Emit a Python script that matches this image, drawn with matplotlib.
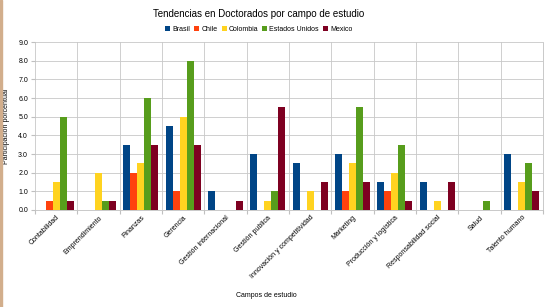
import matplotlib
matplotlib.use("Agg")
import matplotlib.pyplot as plt
import numpy as np

# porcentajes
campos = ["Contabilidad", "Emprendimiento", "Finanzas", "Gerencia",
          "Gestión internacional", "Gestión publica", "Innovación y competitividad",
          "Marketing", "Producción y logística", "Responsabilidad social",
          "Salud", "Talento humano"]
brasil = [0, 0, 3.5, 4.5, 1, 3, 2.5, 3, 1.5, 1.5, 0, 3]
chile = [0.5, 0, 2, 1, 0, 0, 0, 1, 1, 0, 0, 0]
colombia = [1.5, 2, 2.5, 5, 0, 0.5, 1, 2.5, 2, 0.5, 0, 1.5]
estados_unidos = [5, 0.5, 6, 8, 0, 1, 0, 5.5, 3.5, 0, 0.5, 2.5]
mexico = [0.5, 0.5, 3.5, 3.5, 0.5, 5.5, 1.5, 1.5, 0.5, 1.5, 0, 1]

series = [("Brasil", brasil, "#004586"),
          ("Chile", chile, "#ff420e"),
          ("Colombia", colombia, "#ffd320"),
          ("Estados Unidos", estados_unidos, "#579d1c"),
          ("Mexico", mexico, "#7e0021")]

plt.rcParams["font.family"] = ["Liberation Sans", "DejaVu Sans"]

fig = plt.figure(figsize=(5.51, 3.07), dpi=100)
ax = fig.add_axes([0.0635, 0.316, 0.922, 0.547])

x = np.arange(len(campos))
w = 0.165
for i, (nombre, vals, col) in enumerate(series):
    ax.bar(x + (i - 2) * w, vals, width=w, color=col, label=nombre, zorder=3)

ax.set_xlim(-0.5, len(campos) - 0.5)
ax.set_ylim(0, 9)
ax.set_yticks(np.arange(0, 9.5, 1))
ax.set_yticklabels(["%.1f" % v for v in np.arange(0, 9.5, 1)], fontsize=5)

# grid vertical entre categorias
ax.set_xticks(np.arange(-0.5, len(campos) + 0.5, 1), minor=False)
ax.set_xticklabels([])
ax.set_xticks(x, minor=True)
ax.set_xticklabels(campos, minor=True, rotation=45, ha="right",
                   rotation_mode="anchor", fontsize=5)
ax.tick_params(axis="x", which="minor", length=0, pad=3)
ax.tick_params(axis="x", which="major", length=3, color="#c0c0c0")
ax.tick_params(axis="y", length=3, color="#c0c0c0", pad=2)
ax.grid(True, which="major", color="#c8c8c8", linewidth=0.6, zorder=0)

for s in ["top", "left"]:
    ax.spines[s].set_visible(False)
ax.spines["bottom"].set_color("#c0c0c0")
ax.spines["right"].set_color("#c0c0c0")
ax.spines["bottom"].set_linewidth(0.6)
ax.spines["right"].set_linewidth(0.6)

ax.set_xlabel("Campos de estudio", fontsize=5)
ax.xaxis.set_label_coords(0.455, -0.49)
ax.set_ylabel("Participación porcentual", fontsize=5)
ax.yaxis.set_label_coords(-0.05, 0.5)

fig.text(0.47, 0.955, "Tendencias en Doctorados por campo de estudio",
         ha="center", va="center", fontsize=7)
fig.legend(loc="center", bbox_to_anchor=(0.47, 0.905), ncol=5, fontsize=5,
           frameon=False, handlelength=0.7, handleheight=0.7,
           handletextpad=0.3, columnspacing=0.6)

# borde izquierdo
fig.patches.append(plt.Rectangle((0, 0), 0.004, 1, transform=fig.transFigure,
                                 color="#d2ae8c", zorder=0))

fig.savefig("out.png", dpi=100)
